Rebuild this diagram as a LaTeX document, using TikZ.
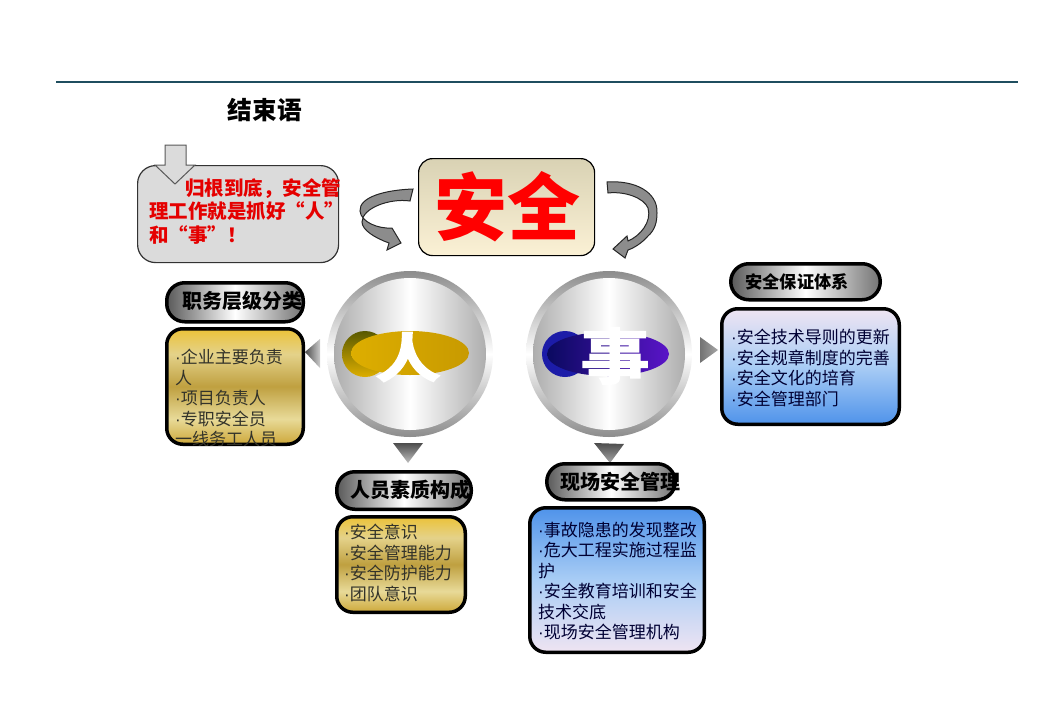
\documentclass[tikz,border=0pt]{standalone}
\usepackage{fontspec}
\setmainfont{Noto Sans CJK SC}
\newfontfamily\heavyfont[FakeBold=3]{Noto Sans CJK SC Bold}
\newfontfamily\dotfont{Liberation Sans}
\newcommand{\bul}{{\dotfont ·}}
\usetikzlibrary{positioning,shapes.geometric}
\definecolor{rulecolor}{HTML}{1F4E5F}
\definecolor{ribbongray}{HTML}{8C8C8C}
\definecolor{bodyink}{HTML}{33332A}
\definecolor{goldtop}{HTML}{EBC238}
\definecolor{goldpale}{HTML}{E4D28A}
\definecolor{goldmid}{HTML}{BFA040}
\definecolor{goldlow}{HTML}{E8DA98}
\definecolor{goldend}{HTML}{CDA83A}
\definecolor{bluedeep}{HTML}{4F93EA}
\definecolor{bluesoft}{HTML}{A9CDF5}
\definecolor{lilac}{HTML}{EFE4F2}
\definecolor{creamtop}{HTML}{D9D2B4}
\definecolor{creamend}{HTML}{FBF1D5}
\definecolor{emblemgold}{HTML}{DDAE00}
\definecolor{emblemdeep}{HTML}{C89A00}
\definecolor{emblemnavy}{HTML}{0A0A60}
\definecolor{emblemblue}{HTML}{1C1CA8}
\definecolor{emblemviolet}{HTML}{5A14C8}
\pgfdeclareverticalshading{goldband}{100bp}{color(0bp)=(goldend);color(25bp)=(goldend);
  color(36bp)=(goldlow);color(50bp)=(goldmid);color(64bp)=(goldpale);color(75bp)=(goldtop);color(100bp)=(goldtop)}
\pgfdeclareverticalshading{bluedown}{100bp}{color(0bp)=(lilac);color(25bp)=(lilac);
  color(50bp)=(bluesoft);color(75bp)=(bluedeep);color(100bp)=(bluedeep)}
\pgfdeclareverticalshading{blueup}{100bp}{color(0bp)=(bluedeep);color(25bp)=(bluedeep);
  color(50bp)=(bluesoft);color(75bp)=(lilac);color(100bp)=(lilac)}
\tikzset{
  titlepill/.style={draw=black,line width=3.5pt,rounded corners=18pt,left color=black!65,right color=black!55,middle color=white,
    minimum height=36pt,inner sep=0pt},
  pilltext/.style={inner sep=0pt,font=\fontsize{20}{24}\selectfont\bfseries},
  listbox/.style={draw=black,line width=3.5pt,rounded corners=16pt,anchor=north west,inner sep=0pt},
  goldbox/.style={listbox,shade,shading=goldband},
  bluedownbox/.style={listbox,shade,shading=bluedown},
  blueupbox/.style={listbox,shade,shading=blueup},
  listtext/.style={anchor=west,align=left,inner sep=0pt,text=bodyink,font=\fontsize{17}{20.5}\selectfont},
  ring/.style={circle,minimum size=166pt,inner sep=0pt,top color=black!45,bottom color=black!45,middle color=white},
  disc/.style={circle,minimum size=152pt,inner sep=0pt,left color=black!32,right color=black!32,middle color=white},
  glyph/.style={text=white,inner sep=0pt,transform shape,font=\heavyfont\fontsize{72}{72}\selectfont},
  pointer/.style={left color=black!70,right color=black!20},
  ribbon/.style={draw=black!85,line width=1pt,fill=ribbongray}
}
\begin{document}
\begin{tikzpicture}[x=1pt,y=-1pt]
  \useasboundingbox (0,0) rectangle (1040,720);
  \draw[rulecolor,line width=1.2pt] (56,82) -- (1018,82);
  \node[font=\fontsize{24.7}{28}\selectfont\bfseries] (closing) at (265,110) {结束语};

  % callout
  \node[draw=black!80,line width=1.2pt,rounded corners=18pt,fill=black!14,anchor=north west,
    minimum width=201pt,minimum height=97pt] (callout) at (137,165) {};
  \draw[draw=black!65,line width=1pt,fill=black!14] (165,145) -- (186,145) -- (186,165) -- (195,165)
    -- (175,184) -- (155,165) -- (165,165) -- cycle;
  \node[text=red!90!black,anchor=north west,inner sep=0pt,align=left,font=\fontsize{19.5}{23.5}\selectfont\bfseries] (calltext) at (149,178)
    {\hspace*{36pt}归根到底，安全管\\理工作就是抓好“人”\\和“事”！};

  % safety box
  \node[draw=black,line width=1.2pt,rounded corners=14pt,anchor=north west,minimum width=176pt,minimum height=97pt,
    top color=creamtop,bottom color=creamend] (safety) at (418,158) {};
  \node[text=red,inner sep=0pt,font=\fontsize{73}{73}\selectfont\bfseries] (safetytext) at (507,207) {安全};

  % ribbons
  \draw[ribbon] (413,189) .. controls (385,190) and (359,197) .. (360,211) .. controls (361,222) and (378,229) .. (392,228)
    -- (401,243) -- (387,250) -- (389,243) .. controls (375,238) and (362,230) .. (362,222)
    .. controls (362,208) and (390,198) .. (410,201) -- cycle;
  \draw[ribbon] (607,182) .. controls (635,180) and (658,192) .. (657,213) .. controls (657,222) and (655,230) .. (648,236)
    .. controls (642,243) and (634,248) .. (628,250) -- (625,258) -- (613,249) -- (627,236) -- (628,241)
    .. controls (640,236) and (652,222) .. (648,208) .. controls (644,198) and (625,191) .. (608,193) -- cycle;

  % circles
  \node[ring] (personring) at (410,354) {};
  \node[disc] (persondisc) at (personring) {};
  \shade[top color=yellow!35!black,bottom color=emblemgold] (365,354) circle (23);
  \shade[left color=emblemgold,right color=emblemdeep] (410,353) ellipse (59 and 22);
  \node[glyph,xscale=.9,yscale=.73] (persontext) at (408,357) {人};
  \node[ring] (thingring) at (609,354) {};
  \node[disc] (thingdisc) at (thingring) {};
  \fill[emblemblue] (565,354) circle (23);
  \shade[left color=emblemnavy,right color=emblemviolet] (608,354) ellipse (61 and 22);
  \node[glyph,xscale=.95,yscale=.83] (thingtext) at (615,356) {事};

  % pointers
  \shade[pointer] (305,352) -- (320,339) -- (320,368) -- cycle;
  \shade[pointer,left color=black!55,right color=black!35] (700,337) -- (718,350) -- (700,363) -- cycle;
  \shade[top color=black!70,bottom color=black!25] (393,443) -- (423,443) -- (408,463) -- cycle;
  \shade[top color=black!70,bottom color=black!35] (594,443) -- (624,444) -- (610,463) -- cycle;

  % duty list
  \node[goldbox,minimum width=136.5pt,minimum height=115.5pt] (dutybox) at (165,327) {};
  \begin{scope}
    \clip (167,329) rectangle (303,445);
    \node[listtext] (dutytext) at (175,398) {\bul 企业主要负责\\人\\\bul 项目负责人\\\bul 专职安全员\\一线务工人员};
  \end{scope}
  \node[titlepill,minimum width=136.5pt,minimum height=39pt,above=3.5pt of dutybox] (dutytitle) {};
  \node[pilltext] (dutylabel) at (242,301) {职务层级分类};

  % quality list
  \node[goldbox,minimum width=128.5pt,minimum height=95.5pt] (qualitybox) at (335,515) {};
  \node[listtext] (qualitytext) at (344,563) {\bul 安全意识\\\bul 安全管理能力\\\bul 安全防护能力\\\bul 团队意识};
  \node[titlepill,minimum width=134.5pt,minimum height=37.5pt,anchor=north west] (qualitytitle) at (335,470) {};
  \node[pilltext] (qualitylabel) at (410,490) {人员素质构成};

  % site list
  \node[bluedownbox,minimum width=174.5pt,minimum height=144.5pt] (sitebox) at (528,506) {};
  \node[listtext,text=black!80!blue] (sitetext) at (538,581) {\bul 事故隐患的发现整改\\\bul 危大工程实施过程监\\护\\\bul 安全教育培训和安全\\技术交底\\\bul 现场安全管理机构};
  \node[titlepill,minimum width=128.5pt,anchor=north west] (sitetitle) at (545,462) {};
  \node[pilltext] (sitelabel) at (620,482) {现场安全管理};

  % assurance list
  \node[blueupbox,minimum width=177.5pt,minimum height=115.5pt] (assurebox) at (720,307) {};
  \node[listtext,text=black!80!blue] (assuretext) at (731,368) {\bul 安全技术导则的更新\\\bul 安全规章制度的完善\\\bul 安全文化的培育\\\bul 安全管理部门};
  \node[titlepill,minimum width=149.5pt,anchor=north west] (assuretitle) at (729,262) {};
  \node[pilltext,font=\fontsize{17.2}{20}\selectfont\bfseries] (assurelabel) at (797,282) {安全保证体系};
\end{tikzpicture}
\end{document}
